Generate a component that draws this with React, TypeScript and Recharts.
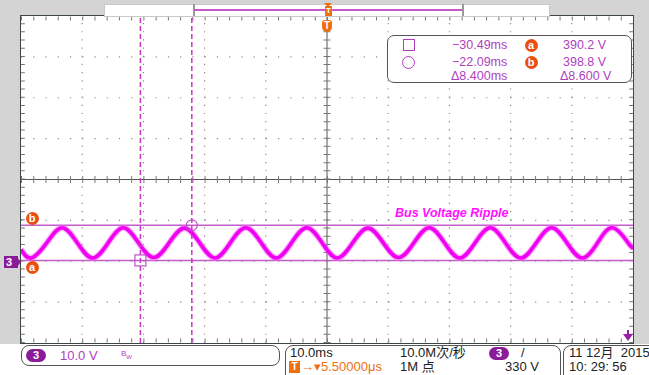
import React from 'react';
import { LineChart, Line, XAxis, YAxis, ReferenceLine, ReferenceDot } from 'recharts';

// time in ms (10 ms/div, trigger at centre), channel 3 voltage in V (10 V/div)
const times = [
  -50, -48.3, -45.8, -43.3, -40.8, -38.3, -35.8, -33.3, -30.8, -28.3, -25.8, -23.3, -20.8, -18.3,
  -15.8, -13.3, -10.8, -8.3, -5.8, -3.3, -0.8, 1.7, 4.2, 6.7, 9.2, 11.7, 14.2, 16.7, 19.2, 21.7,
  24.2, 26.7, 29.2, 31.7, 34.2, 36.7, 39.2, 41.7, 44.2, 46.7, 49.2, 50,
];
const volts = [
  392.9, 390.8, 394.5, 398.2, 394.5, 390.8, 394.4, 398.2, 394.5, 390.9, 394.5, 398.1, 394.5, 390.8,
  394.5, 398.2, 394.6, 390.8, 394.5, 398.2, 394.5, 390.8, 394.5, 398.1, 394.5, 390.9, 394.5, 398.2,
  394.5, 390.8, 394.5, 398.2, 394.4, 390.8, 394.5, 398.2, 394.5, 390.8, 394.5, 398.2, 394.5, 393.3,
];

const xDivs = [-40, -30, -20, -10, 10, 20, 30, 40];
const yDivs = [380, 390, 400, 420, 430, 440];
const cursorTimes = [-30.49, -22.09];
const cursorVolts = [390.2, 398.8];

const data = times.map((t, i) => ({ t, v: volts[i] }));

const PURPLE = '#b03fc0';
const ORANGE = '#f07010';
const BADGE = '#ea4f12';

const abs = (left: number, top: number, extra: React.CSSProperties = {}): React.CSSProperties => ({
  position: 'absolute',
  left,
  top,
  whiteSpace: 'nowrap',
  lineHeight: 1,
  ...extra,
});

const Badge = ({ x, y, ch }: { x: number; y: number; ch: string }) => (
  <div
    style={abs(x - 6.5, y - 6.5, {
      width: 13,
      height: 13,
      borderRadius: 7,
      background: BADGE,
      color: '#fff',
      fontWeight: 700,
      fontSize: 11,
      textAlign: 'center',
      lineHeight: '13px',
    })}
  >
    {ch}
  </div>
);

const Pill = ({ x, y }: { x: number; y: number }) => (
  <div
    style={abs(x, y, {
      width: 20,
      height: 13,
      borderRadius: 7,
      background: '#8a1c9a',
      color: '#fff',
      fontWeight: 700,
      fontSize: 11,
      textAlign: 'center',
      lineHeight: '13px',
    })}
  >
    3
  </div>
);

const SquareMark = (p: any) => (
  <rect x={p.cx - 5.5} y={p.cy - 5.5} width={11} height={11} fill="none" stroke="#c050c8" strokeWidth={1.2} />
);

export default function App() {
  const font = '"Liberation Sans", Arial, sans-serif';
  return (
    <div
      style={{
        position: 'fixed',
        left: 0,
        top: 0,
        width: 649,
        height: 375,
        background: '#d4d4d4',
        fontFamily: font,
        overflow: 'hidden',
      }}
    >
      {/* plot background + frame */}
      <div style={abs(0, 344, { width: 649, height: 31, background: '#fff' })} />
      <div style={abs(20, 15, { width: 612, height: 327, background: '#fff', border: '1.5px solid #3c4646' })} />

      <div style={abs(0, 0)}>
        <LineChart width={649} height={375} data={data} margin={{ top: 16, left: 21, right: 16, bottom: 32 }}>
          <XAxis dataKey="t" type="number" domain={[-50, 50]} hide allowDataOverflow />
          <YAxis type="number" domain={[370, 450]} hide allowDataOverflow />

          {xDivs.map((x) => (
            <ReferenceLine key={'gx' + x} x={x} stroke="#8a8a8a" strokeWidth={1.2} strokeDasharray="1.2 6.975" />
          ))}
          {yDivs.map((y) => (
            <ReferenceLine key={'gy' + y} y={y} stroke="#8a8a8a" strokeWidth={1.2} strokeDasharray="1.2 11.04" />
          ))}

          {/* centre axes with ticks */}
          <ReferenceLine x={0} stroke="#555" strokeWidth={1} />
          <ReferenceLine y={410} stroke="#555" strokeWidth={1} />
          <ReferenceLine x={0} stroke="#777" strokeWidth={7} strokeDasharray="1 7.175" />
          <ReferenceLine y={410} stroke="#777" strokeWidth={7} strokeDasharray="1 11.24" />

          {/* edge ticks */}
          <ReferenceLine y={449.4} stroke="#777" strokeWidth={4} strokeDasharray="1 11.24" />
          <ReferenceLine y={370.6} stroke="#777" strokeWidth={4} strokeDasharray="1 11.24" />
          <ReferenceLine x={-49.7} stroke="#777" strokeWidth={4} strokeDasharray="1 7.175" />
          <ReferenceLine x={49.7} stroke="#777" strokeWidth={4} strokeDasharray="1 7.175" />

          {/* horizontal cursors a / b */}
          {cursorVolts.map((v) => (
            <ReferenceLine key={'cv' + v} y={v} stroke="#c35ccb" strokeWidth={1.5} />
          ))}

          <Line
            dataKey="v"
            type="natural"
            stroke="#ff5cff"
            strokeWidth={6}
            strokeOpacity={0.55}
            dot={false}
            activeDot={false}
            isAnimationActive={false}
          />
          <Line
            dataKey="v"
            type="natural"
            stroke="#f000f0"
            strokeWidth={3.6}
            dot={false}
            activeDot={false}
            isAnimationActive={false}
          />

          {/* vertical cursors */}
          {cursorTimes.map((t) => (
            <ReferenceLine key={'ct' + t} x={t} stroke="#cc33cc" strokeWidth={1.5} strokeDasharray="5 3" />
          ))}
          <ReferenceDot x={cursorTimes[0]} y={cursorVolts[0]} shape={SquareMark} />
          <ReferenceDot x={cursorTimes[1]} y={cursorVolts[1]} r={5.5} fill="none" stroke="#c050c8" strokeWidth={1.2} />
        </LineChart>
      </div>

      {/* top record bar */}
      <div style={abs(104, 4, { width: 444, height: 11, background: '#fff', border: '1px solid #c8c8c8' })} />
      <div style={abs(193, 4, { width: 1.5, height: 12, background: '#999' })} />
      <div style={abs(462, 4, { width: 1.5, height: 12, background: '#999' })} />
      <div style={abs(194, 9, { width: 268, height: 2, background: '#c45ac8' })} />
      <div style={abs(324, 3, { width: 0, height: 0, borderLeft: '4px solid transparent', borderRight: '4px solid transparent', borderTop: '4px solid ' + ORANGE })} />
      <div style={abs(325, 6, { width: 7, height: 10, background: ORANGE, color: '#fff', fontSize: 8, fontWeight: 700, textAlign: 'center', lineHeight: '10px' })}>T</div>
      <div style={abs(322, 20, { width: 10, height: 12, background: ORANGE, borderRadius: '3px 3px 5px 5px', color: '#fff', fontSize: 10, fontWeight: 700, textAlign: 'center', lineHeight: '12px' })}>T</div>

      {/* cursor readout */}
      <div style={abs(387, 35, { width: 243, height: 46, background: '#fff', border: '1.5px solid #555', borderRadius: 7 })} />
      <div style={abs(403, 39, { width: 10, height: 10, border: '1.3px solid ' + PURPLE })} />
      <div style={abs(402, 56, { width: 11, height: 11, border: '1.3px solid ' + PURPLE, borderRadius: 7 })} />
      <div style={abs(452, 39, { color: PURPLE, fontSize: 12.5 })}>−30.49ms</div>
      <div style={abs(452, 56, { color: PURPLE, fontSize: 12.5 })}>−22.09ms</div>
      <div style={abs(451, 70, { color: PURPLE, fontSize: 12.5 })}>Δ8.400ms</div>
      <Badge x={531} y={45} ch="a" />
      <Badge x={531} y={62} ch="b" />
      <div style={abs(563, 39, { color: PURPLE, fontSize: 12.5 })}>390.2 V</div>
      <div style={abs(563, 56, { color: PURPLE, fontSize: 12.5 })}>398.8 V</div>
      <div style={abs(560, 70, { color: PURPLE, fontSize: 12.5 })}>Δ8.600 V</div>

      {/* waveform annotation and markers */}
      <div style={abs(395, 207, { color: '#ff10ff', fontSize: 12.5, fontWeight: 700, fontStyle: 'italic' })}>
        Bus Voltage Ripple
      </div>
      <Badge x={32} y={218} ch="b" />
      <Badge x={32} y={267} ch="a" />
      <div style={abs(4, 256, { width: 12, height: 12, background: '#8a1c9a', color: '#fff', fontSize: 11, fontWeight: 700, lineHeight: '12px', paddingLeft: 2 })}>3</div>
      <div style={abs(16, 256, { width: 0, height: 0, borderTop: '6px solid transparent', borderBottom: '6px solid transparent', borderLeft: '5px solid #8a1c9a' })} />
      <div style={abs(623, 334, { width: 0, height: 0, borderLeft: '5px solid transparent', borderRight: '5px solid transparent', borderTop: '7px solid #9a1ca8' })} />
      <div style={abs(627, 330, { width: 2, height: 5, background: '#9a1ca8' })} />

      {/* status bar */}
      <div style={abs(21, 345, { width: 257, height: 19, background: '#fff', border: '1.5px solid #555', borderRadius: 8 })} />
      <Pill x={26} y={349} />
      <div style={abs(60, 349, { color: PURPLE, fontSize: 13 })}>10.0 V</div>
      <div style={abs(121, 350, { color: PURPLE, fontSize: 8 })}>
        B<sub style={{ fontSize: 6 }}>W</sub>
      </div>

      <div style={abs(285, 345, { width: 274, height: 40, background: '#fff', border: '1.5px solid #555', borderRadius: 8 })} />
      <div style={abs(290, 346, { color: '#222', fontSize: 13 })}>10.0ms</div>
      <div style={abs(289, 361, { width: 11, height: 12, background: ORANGE, color: '#fff', fontSize: 10, fontWeight: 700, textAlign: 'center', lineHeight: '12px' })}>T</div>
      <div style={abs(301, 360, { color: ORANGE, fontSize: 13 })}>→▾5.50000μs</div>
      <div style={abs(400, 346, { color: '#222', fontSize: 13, fontFamily: '"Liberation Sans", "Noto Sans CJK SC", sans-serif' })}>10.0M次/秒</div>
      <div style={abs(400, 360, { color: '#222', fontSize: 13, fontFamily: '"Liberation Sans", "Noto Sans CJK SC", sans-serif' })}>1M 点</div>
      <Pill x={489} y={347} />
      <div style={abs(521, 346, { color: '#222', fontSize: 13 })}>/</div>
      <div style={abs(505, 360, { color: '#222', fontSize: 13 })}>330 V</div>

      <div style={abs(563, 345, { width: 100, height: 40, background: '#fff', border: '1.5px solid #555', borderRadius: 8 })} />
      <div style={abs(569, 346, { color: '#222', fontSize: 13, fontFamily: '"Liberation Sans", "Noto Sans CJK SC", sans-serif' })}>11 12月&nbsp; 2015</div>
      <div style={abs(569, 360, { color: '#222', fontSize: 13 })}>10: 29: 56</div>
    </div>
  );
}
